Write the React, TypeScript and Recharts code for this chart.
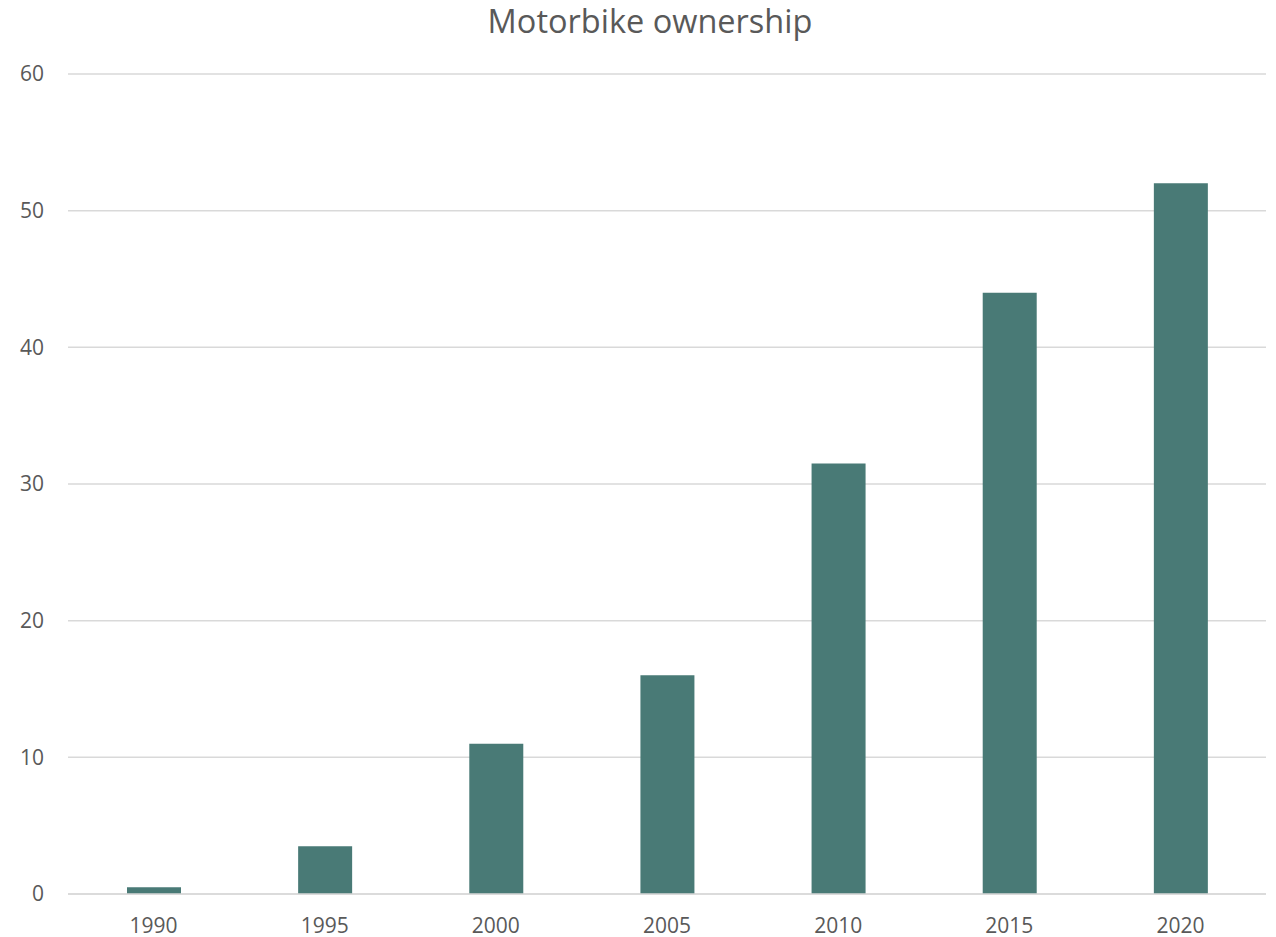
import { BarChart, Bar, XAxis, YAxis, CartesianGrid } from "recharts";

const years = ["1990", "1995", "2000", "2005", "2010", "2015", "2020"];
const ownership = [0.5, 3.5, 11, 16, 31.5, 44, 52];
const yTicks = [0, 10, 20, 30, 40, 50, 60];

const data = years.map((year, i) => ({ year, value: ownership[i] }));

const FONT = "'Open Sans', sans-serif";
const TEXT_COLOR = "#595959";
const GRID_COLOR = "#D9D9D9";
const BAR_COLOR = "#497A76";

export default function App() {
  return (
    <div style={{ position: "absolute", left: 0, top: 0, background: "#fff" }}>
      <BarChart
        width={1276}
        height={937}
        data={data}
        margin={{ top: 74, right: 10, bottom: 0, left: 0 }}
        barCategoryGap={0}
      >
        <text
          x={650}
          y={33}
          textAnchor="middle"
          fill={TEXT_COLOR}
          style={{ fontFamily: FONT, fontSize: 32.5 }}
        >
          Motorbike ownership
        </text>
        <CartesianGrid vertical={false} stroke={GRID_COLOR} strokeWidth={1.5} />
        <XAxis
          dataKey="year"
          height={43}
          axisLine={{ stroke: GRID_COLOR, strokeWidth: 1.5 }}
          tickLine={false}
          tickSize={0}
          tickMargin={24}
          tick={{ fill: TEXT_COLOR, fontSize: 21, fontFamily: FONT }}
        />
        <YAxis
          width={68}
          domain={[0, 60]}
          ticks={yTicks}
          axisLine={false}
          tickLine={false}
          tickSize={0}
          tickMargin={24}
          tick={{ fill: TEXT_COLOR, fontSize: 21, fontFamily: FONT }}
        />
        <Bar dataKey="value" fill={BAR_COLOR} barSize={54} isAnimationActive={false} />
      </BarChart>
    </div>
  );
}
